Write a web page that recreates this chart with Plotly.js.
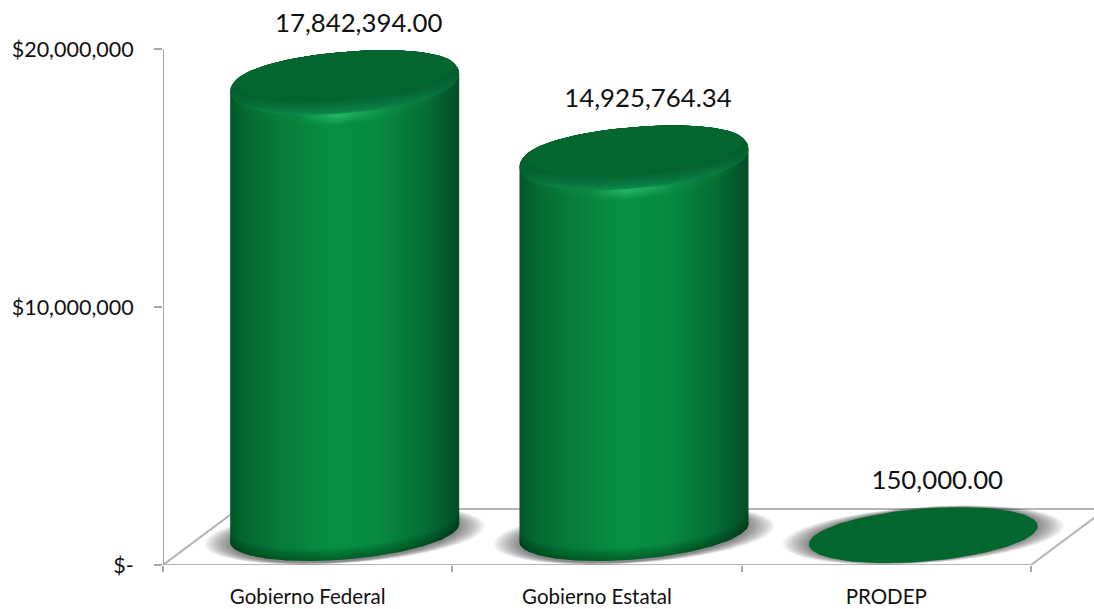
<!DOCTYPE html>
<html><head><meta charset="utf-8">
<script src="https://cdn.plot.ly/plotly-3.0.1.min.js"></script>
<style>html,body{margin:0;padding:0;background:#fff}#c{width:1094px;height:609px}</style>
</head><body><div id="c"></div>
<script>
const categories = ["Gobierno Federal", "Gobierno Estatal", "PRODEP"];
const values = [17842394.00, 14925764.34, 150000.00];
const valueLabels = ["17,842,394.00", "14,925,764.34", "150,000.00"];
const yTickVals = [0, 10000000, 20000000];
const yTickText = ["$-", "$10,000,000", "$20,000,000"];

// plot geometry: one category = 289.3px, 20M = 516px
const W = 1094, H = 609, L = 163, BOTTOM = 565;
const PXU = 289.3, PXV = 20000000 / 516;
const xMax = (W - L) / PXU, yMax = BOTTOM * PXV;
const px = n => n * PXV, ux = n => n / PXU;
const A = ux(114.5), SHEAR = px(9), B = px(26.5);
const CX_OFF = 0.628, FLOOR_C = px(26), BASE_C = px(32);
const DEPTH_X = ux(75), DEPTH_Y = px(56);

const traces = [];
const base = {type:'scatter', hoverinfo:'skip', showlegend:false, cliponaxis:false};
const spow = (v, p) => Math.sign(v) * Math.pow(Math.abs(v), p);
function arc(cx, cy, t0, t1, sa=1, sb=1, p=1) {
  const xs = [], ys = [];
  const n = 120;
  for (let i = 0; i <= n; i++) {
    const t = t0 + (t1 - t0) * i / n;
    const c = spow(Math.cos(t), p), s = spow(Math.sin(t), p);
    xs.push(cx + A * sa * c);
    ys.push(cy + SHEAR * c + B * sb * s);
  }
  return [xs, ys];
}
function poly(xs, ys, style) {
  traces.push(Object.assign({}, base, {x:xs, y:ys, mode:'lines', fill:'toself', line:{width:0}}, style));
}
function ellipse(cx, cy, style, sa, sb, p) {
  const [xs, ys] = arc(cx, cy, 0, 2 * Math.PI, sa, sb, p);
  poly(xs, ys, style);
}
function hGrad(stops, cx, sa=1) {
  return {fillgradient:{type:'horizontal', colorscale:stops, start:cx - A * sa, stop:cx + A * sa}};
}
function mix(a, b, f) { return a.map((v, i) => Math.round(v + (b[i] - v) * f)); }
const rgb = c => `rgb(${c[0]},${c[1]},${c[2]})`;
const lerp = (a, b, f) => a + (b - a) * f;

// floor
const fx = [0, 3, 3 + DEPTH_X, DEPTH_X, 0], fy = [0, 0, DEPTH_Y, DEPTH_Y, 0];
traces.push(Object.assign({}, base, {x:fx, y:fy, mode:'lines', line:{color:'#b4b4b4', width:2}}));
// value axis line
traces.push(Object.assign({}, base, {x:[0, 0], y:[0, 20000000], mode:'lines', line:{color:'#a8a8a8', width:2}}));

const centers = categories.map((_, i) => i + CX_OFF);

// soft shadows
centers.forEach(cx => {
  const N = 16;
  for (let k = 0; k < N; k++) {
    const f = k / (N - 1);
    ellipse(cx, px(30), {fillcolor:'rgba(0,0,0,0.037)'}, 1.23 - 0.23 * f, 1.07 - 0.07 * f);
  }
});

const DARK_FACE = '#04662f';
const bodyStops = [[0,'#03552a'],[0.05,'#05652f'],[0.2,'#067a39'],[0.45,'#079045'],[0.65,'#078a42'],[0.85,'#056f34'],[0.97,'#035428'],[1,'#034d25']];
const SHOULDER = 0.92, OUTER_SB = 1.158, FACE_SB = 0.88;

values.forEach((v, i) => {
  const cx = centers[i];
  const top = FLOOR_C + v;
  if (top > BASE_C) {
    const outerC = top - px(4);
    // body silhouette
    const [ux1, uy1] = arc(cx, outerC, 0, Math.PI, 1, OUTER_SB, SHOULDER);
    const [lx1, ly1] = arc(cx, BASE_C, Math.PI, 2 * Math.PI);
    poly(ux1.concat(lx1), uy1.concat(ly1), hGrad(bodyStops, cx));
    // darker lower rim
    for (let s = 1.5; s <= 12; s += 1.5) {
      const [ax, ay] = arc(cx, BASE_C, Math.PI, 2 * Math.PI);
      const bx = ax.slice().reverse();
      const by = ay.slice().reverse().map(y => y + px(s));
      poly(ax.concat(bx), ay.concat(by), {fillcolor:'rgba(0,45,20,0.065)'});
    }
    // highlight glow below the rim
    for (let d = 10; d >= 1; d -= 1.5) {
      ellipse(cx, outerC - px(d), hGrad([[0,'rgba(40,190,110,0)'],[0.3,'rgba(40,190,110,0.015)'],[0.47,'rgba(60,205,125,0.13)'],[0.7,'rgba(40,190,110,0.02)'],[1,'rgba(40,190,110,0)']], cx), 1, OUTER_SB, SHOULDER);
    }
    // shoulder band, closing up from the outer outline to the face
    const from = [14, 142, 80], to = [4, 98, 47];
    const N = 12;
    for (let k = 0; k <= N; k++) {
      const f = k / N;
      const mid = mix(from, to, Math.pow(f, 0.7));
      const edge = mix([5, 100, 48], [4, 92, 45], f);
      ellipse(cx, lerp(outerC, top + px(3.5), f), hGrad([[0,rgb(edge)],[0.15,rgb(mix(edge, mid, 0.75))],[0.47,rgb(mid)],[0.85,rgb(mix(edge, mid, 0.6))],[1,rgb(edge)]], cx),
        lerp(1, 0.96, f), lerp(OUTER_SB, FACE_SB, f), lerp(SHOULDER, 1, f));
    }
    ellipse(cx, top + px(3.5), {fillcolor:DARK_FACE}, 0.955, FACE_SB);
  } else {
    ellipse(cx, top, {fillcolor:DARK_FACE});
  }
});

// data labels
traces.push(Object.assign({}, base, {
  x: centers.map(c => c + ux(14)),
  y: values.map(v => FLOOR_C + v + px(53)),
  text: valueLabels, mode:'text', textposition:'middle center',
  textfont:{family:'Lato', size:25.8, color:'#111111'}
}));

const layout = {
  width:W, height:H, margin:{l:L, r:0, t:0, b:H - BOTTOM, pad:0},
  paper_bgcolor:'#fff', plot_bgcolor:'rgba(0,0,0,0)', showlegend:false, hovermode:false,
  font:{family:'Lato', color:'#111111'},
  xaxis:{
    range:[0, xMax], showgrid:false, zeroline:false, showline:false,
    tickmode:'array', tickvals:categories.map((_, i) => i + 0.5), ticktext:categories,
    ticks:'', ticklabelstandoff:17, tickfont:{family:'Lato', size:20.5, color:'#111111'},
    minor:{tickmode:'array', tickvals:[0, 1, 2, 3], ticks:'outside', ticklen:6, tickwidth:2, tickcolor:'#a8a8a8', showgrid:false}
  },
  yaxis:{
    range:[0, yMax], showgrid:false, zeroline:false, showline:false,
    tickmode:'array', tickvals:yTickVals, ticktext:yTickText,
    ticks:'outside', ticklen:8, tickwidth:2, tickcolor:'#a8a8a8',
    ticklabelstandoff:16, tickfont:{family:'Lato', size:21.5, color:'#111111'}
  }
};
Plotly.newPlot('c', traces, layout, {displayModeBar:false, staticPlot:true});
</script></body></html>
